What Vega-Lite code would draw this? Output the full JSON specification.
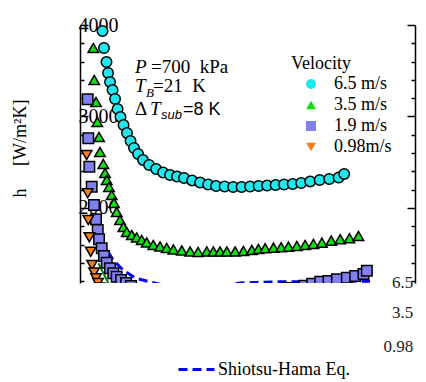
{
  "$schema": "https://vega.github.io/schema/vega-lite/v6.json",
  "width": 335,
  "height": 258,
  "autosize": {"type": "none"},
  "padding": {"left": 80, "top": 25, "right": 11, "bottom": 99},
  "config": {
    "view": {"stroke": null},
    "font": "Liberation Serif",
    "axis": {"domainColor": "black", "domainWidth": 1.5, "tickColor": "black", "tickWidth": 1.5, "grid": false}
  },
  "resolve": {"axis": {"y": "independent"}},
  "datasets": {
    "points": [
      {"v": "6.5 m/s", "x": 2.60, "h": 3934}, {"v": "6.5 m/s", "x": 2.77, "h": 3749}, {"v": "6.5 m/s", "x": 3.06, "h": 3596},
      {"v": "6.5 m/s", "x": 3.24, "h": 3475}, {"v": "6.5 m/s", "x": 3.47, "h": 3377}, {"v": "6.5 m/s", "x": 3.76, "h": 3290},
      {"v": "6.5 m/s", "x": 4.05, "h": 3191}, {"v": "6.5 m/s", "x": 4.34, "h": 3082}, {"v": "6.5 m/s", "x": 4.68, "h": 2995},
      {"v": "6.5 m/s", "x": 5.03, "h": 2907}, {"v": "6.5 m/s", "x": 5.43, "h": 2820}, {"v": "6.5 m/s", "x": 5.84, "h": 2732},
      {"v": "6.5 m/s", "x": 6.24, "h": 2656}, {"v": "6.5 m/s", "x": 6.71, "h": 2590}, {"v": "6.5 m/s", "x": 7.28, "h": 2525},
      {"v": "6.5 m/s", "x": 7.98, "h": 2470}, {"v": "6.5 m/s", "x": 8.79, "h": 2426}, {"v": "6.5 m/s", "x": 9.60, "h": 2388},
      {"v": "6.5 m/s", "x": 10.40, "h": 2361}, {"v": "6.5 m/s", "x": 11.21, "h": 2344}, {"v": "6.5 m/s", "x": 12.02, "h": 2328},
      {"v": "6.5 m/s", "x": 12.95, "h": 2301}, {"v": "6.5 m/s", "x": 13.87, "h": 2279}, {"v": "6.5 m/s", "x": 14.80, "h": 2257},
      {"v": "6.5 m/s", "x": 15.72, "h": 2240}, {"v": "6.5 m/s", "x": 16.71, "h": 2235}, {"v": "6.5 m/s", "x": 17.69, "h": 2229},
      {"v": "6.5 m/s", "x": 18.67, "h": 2229}, {"v": "6.5 m/s", "x": 19.65, "h": 2235}, {"v": "6.5 m/s", "x": 20.64, "h": 2240},
      {"v": "6.5 m/s", "x": 21.62, "h": 2246}, {"v": "6.5 m/s", "x": 22.60, "h": 2251}, {"v": "6.5 m/s", "x": 23.58, "h": 2257},
      {"v": "6.5 m/s", "x": 24.57, "h": 2262}, {"v": "6.5 m/s", "x": 25.55, "h": 2273}, {"v": "6.5 m/s", "x": 26.59, "h": 2290},
      {"v": "6.5 m/s", "x": 27.69, "h": 2306}, {"v": "6.5 m/s", "x": 28.79, "h": 2317}, {"v": "6.5 m/s", "x": 29.88, "h": 2333},
      {"v": "6.5 m/s", "x": 30.52, "h": 2372},
      {"v": "3.5 m/s", "x": 1.54, "h": 3749}, {"v": "3.5 m/s", "x": 1.65, "h": 3399}, {"v": "3.5 m/s", "x": 1.85, "h": 3158},
      {"v": "3.5 m/s", "x": 2.00, "h": 2940}, {"v": "3.5 m/s", "x": 2.20, "h": 2776}, {"v": "3.5 m/s", "x": 2.31, "h": 2612},
      {"v": "3.5 m/s", "x": 2.69, "h": 2481}, {"v": "3.5 m/s", "x": 2.89, "h": 2382}, {"v": "3.5 m/s", "x": 3.09, "h": 2306},
      {"v": "3.5 m/s", "x": 3.35, "h": 2229}, {"v": "3.5 m/s", "x": 3.66, "h": 2142}, {"v": "3.5 m/s", "x": 3.93, "h": 2055},
      {"v": "3.5 m/s", "x": 4.24, "h": 1956}, {"v": "3.5 m/s", "x": 4.62, "h": 1869}, {"v": "3.5 m/s", "x": 5.01, "h": 1792},
      {"v": "3.5 m/s", "x": 5.40, "h": 1738}, {"v": "3.5 m/s", "x": 5.98, "h": 1705}, {"v": "3.5 m/s", "x": 6.55, "h": 1678},
      {"v": "3.5 m/s", "x": 7.13, "h": 1650}, {"v": "3.5 m/s", "x": 7.71, "h": 1623}, {"v": "3.5 m/s", "x": 8.47, "h": 1596},
      {"v": "3.5 m/s", "x": 9.25, "h": 1579}, {"v": "3.5 m/s", "x": 10.02, "h": 1563}, {"v": "3.5 m/s", "x": 10.79, "h": 1546},
      {"v": "3.5 m/s", "x": 11.76, "h": 1535}, {"v": "3.5 m/s", "x": 12.72, "h": 1524}, {"v": "3.5 m/s", "x": 13.64, "h": 1519},
      {"v": "3.5 m/s", "x": 14.65, "h": 1524}, {"v": "3.5 m/s", "x": 15.41, "h": 1524}, {"v": "3.5 m/s", "x": 16.18, "h": 1524},
      {"v": "3.5 m/s", "x": 16.96, "h": 1524}, {"v": "3.5 m/s", "x": 17.92, "h": 1524}, {"v": "3.5 m/s", "x": 18.88, "h": 1530},
      {"v": "3.5 m/s", "x": 19.85, "h": 1541}, {"v": "3.5 m/s", "x": 20.61, "h": 1552}, {"v": "3.5 m/s", "x": 21.39, "h": 1560},
      {"v": "3.5 m/s", "x": 22.35, "h": 1567}, {"v": "3.5 m/s", "x": 23.24, "h": 1571}, {"v": "3.5 m/s", "x": 24.08, "h": 1578},
      {"v": "3.5 m/s", "x": 25.05, "h": 1585}, {"v": "3.5 m/s", "x": 26.01, "h": 1596}, {"v": "3.5 m/s", "x": 26.97, "h": 1607},
      {"v": "3.5 m/s", "x": 27.94, "h": 1621}, {"v": "3.5 m/s", "x": 29.02, "h": 1643}, {"v": "3.5 m/s", "x": 30.06, "h": 1658},
      {"v": "3.5 m/s", "x": 31.13, "h": 1669}, {"v": "3.5 m/s", "x": 32.17, "h": 1694},
      {"v": "1.9 m/s", "x": 0.89, "h": 3188}, {"v": "1.9 m/s", "x": 0.96, "h": 2762}, {"v": "1.9 m/s", "x": 1.08, "h": 2451},
      {"v": "1.9 m/s", "x": 1.35, "h": 2233}, {"v": "1.9 m/s", "x": 1.62, "h": 2033}, {"v": "1.9 m/s", "x": 1.85, "h": 1876},
      {"v": "1.9 m/s", "x": 2.05, "h": 1760}, {"v": "1.9 m/s", "x": 2.20, "h": 1658}, {"v": "1.9 m/s", "x": 2.51, "h": 1560},
      {"v": "1.9 m/s", "x": 2.77, "h": 1475}, {"v": "1.9 m/s", "x": 3.09, "h": 1402}, {"v": "1.9 m/s", "x": 3.47, "h": 1341},
      {"v": "1.9 m/s", "x": 3.85, "h": 1286}, {"v": "1.9 m/s", "x": 4.24, "h": 1249}, {"v": "1.9 m/s", "x": 4.74, "h": 1213},
      {"v": "1.9 m/s", "x": 5.32, "h": 1180}, {"v": "1.9 m/s", "x": 5.90, "h": 1147}, {"v": "1.9 m/s", "x": 8.0, "h": 1110},
      {"v": "1.9 m/s", "x": 12.0, "h": 1100}, {"v": "1.9 m/s", "x": 16.0, "h": 1100}, {"v": "1.9 m/s", "x": 20.0, "h": 1110},
      {"v": "1.9 m/s", "x": 24.0, "h": 1125}, {"v": "1.9 m/s", "x": 25.9, "h": 1150}, {"v": "1.9 m/s", "x": 26.82, "h": 1172},
      {"v": "1.9 m/s", "x": 27.75, "h": 1194}, {"v": "1.9 m/s", "x": 28.71, "h": 1202}, {"v": "1.9 m/s", "x": 29.68, "h": 1221},
      {"v": "1.9 m/s", "x": 30.83, "h": 1238}, {"v": "1.9 m/s", "x": 31.79, "h": 1257}, {"v": "1.9 m/s", "x": 32.75, "h": 1279},
      {"v": "1.9 m/s", "x": 33.14, "h": 1315},
      {"v": "0.98m/s", "x": 0.77, "h": 2579}, {"v": "0.98m/s", "x": 0.89, "h": 2161}, {"v": "0.98m/s", "x": 0.96, "h": 1869},
      {"v": "0.98m/s", "x": 1.08, "h": 1680}, {"v": "0.98m/s", "x": 1.24, "h": 1522}, {"v": "0.98m/s", "x": 1.39, "h": 1377},
      {"v": "0.98m/s", "x": 1.62, "h": 1293}, {"v": "0.98m/s", "x": 1.85, "h": 1231}, {"v": "0.98m/s", "x": 2.08, "h": 1180},
      {"v": "0.98m/s", "x": 2.30, "h": 1130}
    ],
    "shiotsu": [
      {"model": "Shiotsu-Hama Eq.", "x": 1.73, "h": 1792}, {"model": "Shiotsu-Hama Eq.", "x": 2.31, "h": 1683},
      {"model": "Shiotsu-Hama Eq.", "x": 3.12, "h": 1541}, {"model": "Shiotsu-Hama Eq.", "x": 3.82, "h": 1432},
      {"model": "Shiotsu-Hama Eq.", "x": 4.97, "h": 1322}, {"model": "Shiotsu-Hama Eq.", "x": 6.36, "h": 1235},
      {"model": "Shiotsu-Hama Eq.", "x": 8.09, "h": 1191}, {"model": "Shiotsu-Hama Eq.", "x": 10.0, "h": 1150},
      {"model": "Shiotsu-Hama Eq.", "x": 15.0, "h": 1130}, {"model": "Shiotsu-Hama Eq.", "x": 18.5, "h": 1180},
      {"model": "Shiotsu-Hama Eq.", "x": 22.0, "h": 1192}, {"model": "Shiotsu-Hama Eq.", "x": 27.7, "h": 1195},
      {"model": "Shiotsu-Hama Eq.", "x": 33.5, "h": 1200}
    ],
    "other": [
      {"x": 2.12, "h": 1396}, {"x": 3.27, "h": 1180}, {"x": 3.47, "h": 1137}
    ],
    "italic": [
      {"x": 6.36, "h": 3475, "t": "P"}, {"x": 6.36, "h": 3268, "t": "T"}, {"x": 8.09, "h": 3016, "t": "T"}
    ],
    "roman": [
      {"x": 8.21, "h": 3475, "t": "=700\u00a0\u00a0kPa"}, {"x": 8.44, "h": 3268, "t": "=21\u00a0\u00a0K"}, {"x": 6.36, "h": 3016, "t": "Δ"}
    ],
    "subs": [
      {"x": 7.63, "h": 3213, "t": "B"}
    ],
    "sanssub": [
      {"x": 9.36, "h": 2973, "t": "sub"}
    ],
    "sans": [
      {"x": 11.91, "h": 3016, "t": "=8 K"}
    ],
    "rlabels": [
      {"x": 38.5, "h": 1180, "t": "6.5"}, {"x": 38.5, "h": 852, "t": "3.5"}, {"x": 38.5, "h": 481, "t": "0.98"}
    ]
  },
  "layer": [
    {
      "data": {"name": "other"},
      "mark": {"type": "line", "color": "#008000", "strokeWidth": 2, "clip": true},
      "encoding": {
        "x": {"field": "x", "type": "quantitative", "scale": {"domain": [0, 38.7], "nice": false, "zero": false}, "axis": null},
        "y": {"field": "h", "type": "quantitative", "scale": {"domain": [1180, 4000], "nice": false, "zero": false}, "axis": null}
      }
    },
    {
      "data": {"name": "shiotsu"},
      "mark": {"type": "line", "color": "#0000ff", "strokeWidth": 3, "clip": true},
      "encoding": {
        "x": {"field": "x", "type": "quantitative", "axis": null},
        "y": {"field": "h", "type": "quantitative",
          "axis": {"orient": "right", "title": null, "labels": false, "ticks": true,
            "values": [1200, 1400, 1600, 1800, 2000, 2200, 2400, 2600, 2800, 3000, 3200, 3400, 3600, 3800, 4000],
            "tickSize": {"condition": {"test": "datum.value % 1000 === 0", "value": -8}, "value": -4}}},
        "strokeDash": {"field": "model", "type": "nominal",
          "scale": {"domain": ["Shiotsu-Hama Eq."], "range": [[9, 5]]},
          "legend": {"orient": "none", "legendX": 97, "legendY": 325, "title": null, "symbolType": "stroke",
            "symbolSize": 1296, "symbolStrokeWidth": 3, "symbolStrokeColor": "#0000ff", "symbolDash": [9, 4],
            "labelFont": "Liberation Serif", "labelFontSize": 18, "labelColor": "black", "labelOffset": 2, "padding": 0}}
      }
    },
    {
      "data": {"name": "points"},
      "mark": {"type": "point", "filled": false, "stroke": "black", "strokeWidth": 1.5, "size": 110, "opacity": 1, "fillOpacity": 1, "strokeOpacity": 1, "clip": true},
      "encoding": {
        "x": {"field": "x", "type": "quantitative",
          "axis": {"orient": "top", "title": null, "labels": false, "ticks": true,
            "values": [0, 2, 4, 6, 8, 10, 12, 14, 16, 18, 20, 22, 24, 26, 28, 30, 32, 34, 36, 38],
            "tickSize": {"condition": {"test": "datum.value % 10 === 0", "value": -9}, "value": -4}}},
        "y": {"field": "h", "type": "quantitative",
          "axis": {"orient": "left", "title": "h\u00a0\u00a0\u00a0\u00a0\u00a0[W/m²K]", "format": "d", "ticks": true,
            "values": [1200, 1400, 1600, 1800, 2000, 2200, 2400, 2600, 2800, 3000, 3200, 3400, 3600, 3800, 4000],
            "tickSize": {"condition": {"test": "datum.value % 1000 === 0", "value": -8}, "value": -4},
            "labelExpr": "datum.value % 1000 === 0 ? datum.label : ''",
            "labelAlign": "left", "labelBaseline": "middle", "labelPadding": 10, "labelOverlap": false,
            "labelFont": "Liberation Serif", "labelFontSize": 20, "labelColor": "black",
            "titleX": -60, "titleY": 123, "titleAngle": -90, "titleAlign": "center", "titleBaseline": "middle",
            "titleFont": "Liberation Serif", "titleFontSize": 18, "titleFontWeight": "normal", "titleColor": "black"}},
        "stroke": {"value": "black"},
        "fill": {"field": "v", "type": "nominal",
          "scale": {"domain": ["6.5 m/s", "3.5 m/s", "1.9 m/s", "0.98m/s"], "range": ["#1ee8ee", "#10e010", "#8080f0", "#f98012"]},
          "legend": {"title": "Velocity", "orient": "none", "legendX": 211, "legendY": 30, "symbolOffset": 11, "labelOffset": 14,
            "rowPadding": 3, "symbolSize": 100, "symbolStrokeColor": "black", "symbolStrokeWidth": 1.5,
            "encode": {"symbols": {"stroke": {"value": "black"}, "strokeWidth": {"value": 1.5}}},
            "titleFont": "Liberation Serif", "titleFontSize": 18, "titleFontWeight": "normal", "titleColor": "black", "titlePadding": 2,
            "labelFont": "Liberation Serif", "labelFontSize": 18, "labelColor": "black", "padding": 0}},
        "shape": {"field": "v", "type": "nominal",
          "scale": {"domain": ["6.5 m/s", "3.5 m/s", "1.9 m/s", "0.98m/s"], "range": ["circle", "triangle-up", "square", "triangle-down"]},
          "legend": {"title": "Velocity", "orient": "none", "legendX": 211, "legendY": 30, "symbolOffset": 11, "labelOffset": 14,
            "rowPadding": 3, "symbolSize": 100, "symbolStrokeColor": "black", "symbolStrokeWidth": 1.5,
            "encode": {"symbols": {"stroke": {"value": "black"}, "strokeWidth": {"value": 1.5}}},
            "titleFont": "Liberation Serif", "titleFontSize": 18, "titleFontWeight": "normal", "titleColor": "black", "titlePadding": 2,
            "labelFont": "Liberation Serif", "labelFontSize": 18, "labelColor": "black", "padding": 0}}
      }
    },
    {
      "data": {"name": "italic"},
      "mark": {"type": "text", "font": "Liberation Serif", "fontSize": 19, "fontStyle": "italic", "align": "left", "baseline": "alphabetic", "color": "black"},
      "encoding": {
        "x": {"field": "x", "type": "quantitative", "axis": null},
        "y": {"field": "h", "type": "quantitative", "axis": null},
        "text": {"field": "t"}
      }
    },
    {
      "data": {"name": "roman"},
      "mark": {"type": "text", "font": "Liberation Serif", "fontSize": 19, "align": "left", "baseline": "alphabetic", "color": "black"},
      "encoding": {
        "x": {"field": "x", "type": "quantitative", "axis": null},
        "y": {"field": "h", "type": "quantitative", "axis": null},
        "text": {"field": "t"}
      }
    },
    {
      "data": {"name": "subs"},
      "mark": {"type": "text", "font": "Liberation Serif", "fontSize": 13, "fontStyle": "italic", "align": "left", "baseline": "alphabetic", "color": "black"},
      "encoding": {
        "x": {"field": "x", "type": "quantitative", "axis": null},
        "y": {"field": "h", "type": "quantitative", "axis": null},
        "text": {"field": "t"}
      }
    },
    {
      "data": {"name": "sanssub"},
      "mark": {"type": "text", "font": "Liberation Sans", "fontSize": 13, "fontStyle": "italic", "align": "left", "baseline": "alphabetic", "color": "black"},
      "encoding": {
        "x": {"field": "x", "type": "quantitative", "axis": null},
        "y": {"field": "h", "type": "quantitative", "axis": null},
        "text": {"field": "t"}
      }
    },
    {
      "data": {"name": "sans"},
      "mark": {"type": "text", "font": "Liberation Sans", "fontSize": 18, "align": "left", "baseline": "alphabetic", "color": "black"},
      "encoding": {
        "x": {"field": "x", "type": "quantitative", "axis": null},
        "y": {"field": "h", "type": "quantitative", "axis": null},
        "text": {"field": "t"}
      }
    },
    {
      "data": {"name": "rlabels"},
      "mark": {"type": "text", "font": "Liberation Serif", "fontSize": 17, "align": "right", "baseline": "middle", "color": "#222222"},
      "encoding": {
        "x": {"field": "x", "type": "quantitative", "axis": null},
        "y": {"field": "h", "type": "quantitative", "axis": null},
        "text": {"field": "t"}
      }
    }
  ]
}
